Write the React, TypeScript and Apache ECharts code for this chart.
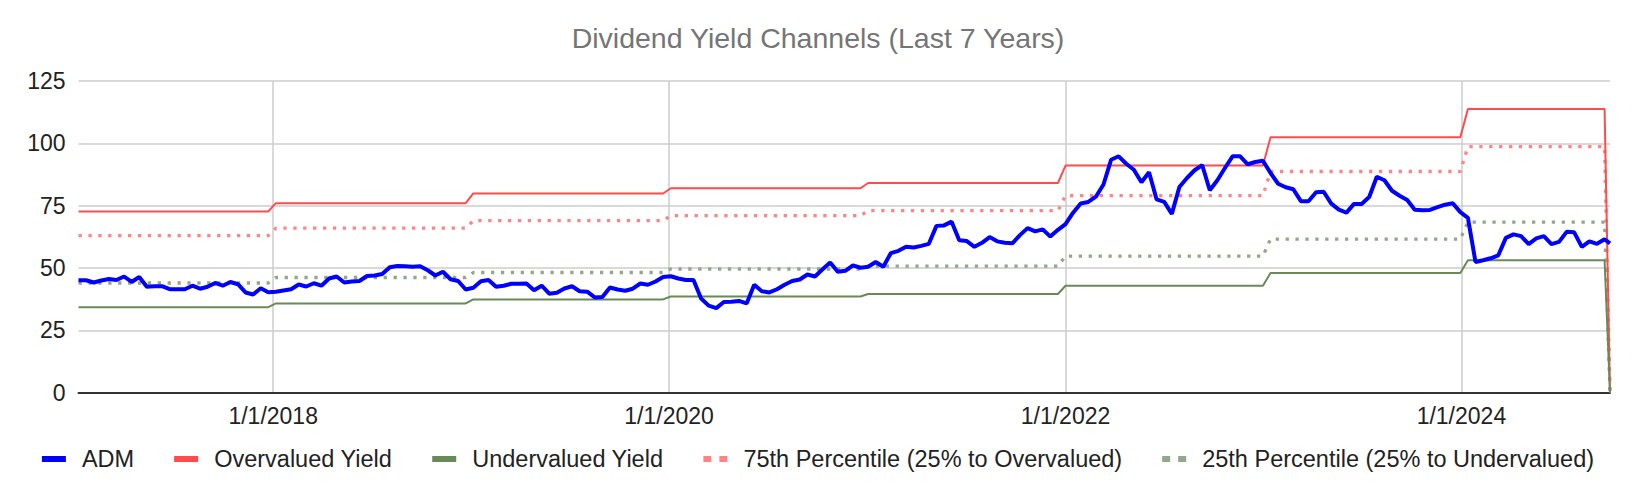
import React, { useEffect, useRef } from 'react';
import * as echarts from 'echarts';

const TITLE = 'Dividend Yield Channels (Last 7 Years)';
const NAMES = [
  'ADM',
  'Overvalued Yield',
  'Undervalued Yield',
  '75th Percentile (25% to Overvalued)',
  '25th Percentile (25% to Undervalued)',
];

// sampling of the source sheet: one row every two weeks, plus a final row
const START_DATE = [2017, 0, 7];
const STEP_DAYS = 14;
const LAST_DATE = [2024, 9, 1];

// ADM price, one value per row
const ADM = [
  45.1, 45.1, 44.2, 45.0, 45.6, 45.2, 46.6, 44.4, 46.4, 42.5,
  42.7, 42.7, 41.5, 41.5, 41.5, 42.9, 41.7, 42.5, 44.0, 42.9,
  44.4, 43.5, 40.2, 39.4, 41.9, 40.3, 40.5, 41.0, 41.5, 43.4,
  42.6, 43.9, 42.9, 45.8, 46.6, 44.2, 44.6, 44.8, 46.8, 47.0,
  47.6, 50.3, 50.8, 50.7, 50.5, 50.7, 49.1, 47.0, 48.5, 45.5,
  44.8, 41.4, 42.1, 44.7, 45.2, 42.5, 42.9, 43.7, 43.7, 43.8,
  41.1, 42.9, 39.7, 40.1, 41.8, 42.7, 40.7, 40.5, 38.2, 38.4,
  42.2, 41.4, 40.9, 41.7, 43.8, 43.3, 44.6, 46.4, 46.7, 45.8,
  45.2, 45.2, 37.8, 34.9, 33.9, 36.4, 36.5, 36.8, 35.8, 43.3,
  40.7, 40.2, 41.5, 43.3, 44.8, 45.4, 47.4, 46.6, 49.5, 52.2,
  48.5, 48.9, 51.1, 50.1, 50.5, 52.4, 50.5, 56.0, 56.9, 58.5,
  58.2, 58.9, 59.7, 66.9, 67.1, 68.6, 61.1, 60.8, 58.5, 60.1,
  62.4, 60.7, 60.1, 59.9, 63.2, 66.0, 64.7, 65.5, 62.6, 65.3,
  67.6, 72.2, 75.9, 76.5, 78.6, 83.5, 93.4, 94.8, 91.8, 89.4,
  84.4, 88.4, 77.5, 76.5, 71.7, 82.5, 86.1, 89.2, 91.3, 81.2,
  85.2, 90.1, 94.8, 94.8, 91.6, 92.5, 93.0, 88.1, 83.8, 82.4,
  81.6, 76.8, 76.8, 80.4, 80.6, 75.8, 73.4, 72.2, 75.7, 75.7,
  78.5, 86.6, 85.2, 81.0, 79.0, 77.3, 73.4, 73.2, 73.3, 74.4,
  75.4, 76.0, 72.4, 70.1, 52.4, 53.1, 53.9, 55.1, 62.1, 63.5,
  62.8, 59.6, 61.9, 62.8, 59.6, 60.5, 64.5, 64.3, 58.5, 60.7,
  59.7, 61.5, 59.9,
];

// channel levels, one per calendar year
const YEARS = [2017, 2018, 2019, 2020, 2021, 2022, 2023, 2024];
const OVERVALUED = [72.7, 76.0, 79.9, 82.0, 84.1, 91.1, 102.4, 113.8];
const UNDERVALUED = [34.3, 35.8, 37.4, 38.6, 39.6, 42.9, 48.0, 53.1];
const P75 = [63.0, 66.0, 69.0, 71.0, 73.0, 79.0, 88.7, 98.7];
const P25 = [44.0, 46.2, 48.2, 49.6, 50.8, 54.8, 61.6, 68.4];
const CHANNEL_LAST_VALUE = 0;

const X_LABEL_DATES = [
  [2018, 0, 1],
  [2020, 0, 1],
  [2022, 0, 1],
  [2024, 0, 1],
];
const Y_MIN = 0;
const Y_MAX = 125;
const Y_INTERVAL = 25;

const COLORS = ['#0000ff', '#ff4b4b', '#698a58', '#ff8585', '#93a78a'];
const FONT = 'Arial, "Liberation Sans", sans-serif';

const DAY = 86400000;
const toTs = (d: number[]) => Date.UTC(d[0], d[1], d[2]);

const buildDates = () => {
  const start = toTs(START_DATE);
  const dates: number[] = [];
  for (let i = 0; i < ADM.length - 1; i++) dates.push(start + i * STEP_DAYS * DAY);
  dates.push(toTs(LAST_DATE));
  return dates;
};

const buildChannel = (dates: number[], levels: number[]) =>
  dates.map((t, i) => {
    if (i === dates.length - 1) return [t, CHANNEL_LAST_VALUE];
    const y = new Date(t).getUTCFullYear();
    return [t, levels[YEARS.indexOf(y)]];
  });

const fmtDate = (v: number) => {
  const d = new Date(v);
  return `${d.getUTCMonth() + 1}/${d.getUTCDate()}/${d.getUTCFullYear()}`;
};

export default function App() {
  const ref = useRef<HTMLDivElement>(null);

  useEffect(() => {
    document.body.style.margin = '0';
    if (!ref.current) return;
    const chart = echarts.init(ref.current, undefined, { renderer: 'svg' });
    const dates = buildDates();
    const admData = dates.map((t, i) => [t, ADM[i]]);
    const xTicks = X_LABEL_DATES.map(toTs);

    const solidIcon = 'path://M0,0h24v6h-24z';
    const dotIcon = 'path://M0,0h8v6h-8zM16,0h8v6h-8z';

    const option: any = {
      animation: false,
      backgroundColor: '#ffffff',
      textStyle: { fontFamily: FONT },
      title: {
        text: TITLE,
        left: 'center',
        top: 23,
        padding: 0,
        textStyle: { fontFamily: FONT, fontSize: 28.5, fontWeight: 'normal', color: '#757575' },
      },
      legend: {
        top: 442,
        left: 'center',
        itemWidth: 24,
        itemHeight: 6,
        itemGap: 40,
        textStyle: { fontFamily: FONT, fontSize: 23.5, color: '#222222', padding: [0, 0, 0, 11] },
        data: [
          { name: NAMES[0], icon: solidIcon, itemStyle: { color: COLORS[0] } },
          { name: NAMES[1], icon: solidIcon, itemStyle: { color: COLORS[1] } },
          { name: NAMES[2], icon: solidIcon, itemStyle: { color: COLORS[2] } },
          { name: NAMES[3], icon: dotIcon, itemStyle: { color: COLORS[3] } },
          { name: NAMES[4], icon: dotIcon, itemStyle: { color: COLORS[4] } },
        ],
      },
      grid: { left: 78.5, right: 26, top: 81, bottom: 101.3, containLabel: false },
      xAxis: {
        type: 'value',
        min: dates[0],
        max: dates[dates.length - 1],
        axisLine: { show: true, onZero: false, lineStyle: { color: '#333333', width: 2 } },
        axisTick: { show: false, customValues: xTicks },
        axisLabel: {
          customValues: xTicks,
          formatter: (v: number) => fmtDate(v),
          fontFamily: FONT,
          fontSize: 23,
          color: '#222222',
          margin: 12,
          showMinLabel: true,
          showMaxLabel: true,
          hideOverlap: false,
        },
        splitLine: { show: true, lineStyle: { color: '#cccccc', width: 1.5 } },
      },
      yAxis: {
        type: 'value',
        min: Y_MIN,
        max: Y_MAX,
        interval: Y_INTERVAL,
        axisLine: { show: false },
        axisTick: { show: false },
        axisLabel: { fontFamily: FONT, fontSize: 23, color: '#222222', margin: 13 },
        splitLine: { show: true, lineStyle: { color: '#cccccc', width: 1.5 } },
      },
      series: [
        {
          name: NAMES[0],
          type: 'line',
          data: admData,
          showSymbol: false,
          symbol: 'none',
          z: 6,
          color: COLORS[0],
          lineStyle: { color: COLORS[0], width: 4 },
        },
        {
          name: NAMES[1],
          type: 'line',
          data: buildChannel(dates, OVERVALUED),
          symbol: 'none',
          z: 4,
          color: COLORS[1],
          lineStyle: { color: COLORS[1], width: 2 },
        },
        {
          name: NAMES[2],
          type: 'line',
          data: buildChannel(dates, UNDERVALUED),
          symbol: 'none',
          z: 4,
          color: COLORS[2],
          lineStyle: { color: COLORS[2], width: 2 },
        },
        {
          name: NAMES[3],
          type: 'line',
          data: buildChannel(dates, P75),
          symbol: 'none',
          z: 3,
          color: COLORS[3],
          lineStyle: { color: COLORS[3], width: 3.3, type: [3.3, 6.6] },
        },
        {
          name: NAMES[4],
          type: 'line',
          data: buildChannel(dates, P25),
          symbol: 'none',
          z: 3,
          color: COLORS[4],
          lineStyle: { color: COLORS[4], width: 3.3, type: [3.3, 6.6] },
        },
      ],
    };
    chart.setOption(option);
    return () => chart.dispose();
  }, []);

  return (
    <div
      ref={ref}
      style={{ position: 'absolute', left: 0, top: 0, width: 1636, height: 494, background: '#fff' }}
    />
  );
}
